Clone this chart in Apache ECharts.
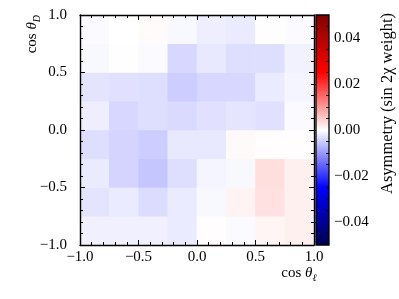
<!DOCTYPE html>
<html>
<head>
<meta charset="utf-8">
<script src="https://cdn.jsdelivr.net/npm/echarts@6/dist/echarts.min.js"></script>
<style>
html,body{margin:0;padding:0;background:#fff;}
#chart{width:399px;height:299px;}
</style>
</head>
<body>
<div id="chart"></div>
<script>
// Bin centres (cos theta_l on x, cos theta_D on y)
const xCats = ['-0.875','-0.625','-0.375','-0.125','0.125','0.375','0.625','0.875'];
const yCats = ['-0.875','-0.625','-0.375','-0.125','0.125','0.375','0.625','0.875'];

// Asymmetry values per row (bottom row first), columns left to right
const asymRowYm0875 = [-0.0015, -0.0015, -0.0015, -0.0020,  0.0002, -0.0005,  0.0010,  0.0015];
const asymRowYm0625 = [-0.0026, -0.0020, -0.0034, -0.0020, -0.0007,  0.0012,  0.0029,  0.0015];
const asymRowYm0375 = [-0.0020, -0.0042, -0.0056, -0.0032, -0.0010, -0.0007,  0.0032,  0.0015];
const asymRowYm0125 = [-0.0032, -0.0042, -0.0049, -0.0023, -0.0023,  0.0005,  0.0002,  0.0002];
const asymRowYp0125 = [-0.0017, -0.0039, -0.0032, -0.0036, -0.0029, -0.0025, -0.0029, -0.0005];
const asymRowYp0375 = [-0.0026, -0.0029, -0.0032, -0.0049, -0.0039, -0.0039, -0.0020, -0.0010];
const asymRowYp0625 = [-0.0007, -0.0001, -0.0005, -0.0039, -0.0023, -0.0032, -0.0032, -0.0013];
const asymRowYp0875 = [-0.0005,  0.0000,  0.0004, -0.0007, -0.0017, -0.0020,  0.0001, -0.0005];

const rows = [asymRowYm0875, asymRowYm0625, asymRowYm0375, asymRowYm0125,
              asymRowYp0125, asymRowYp0375, asymRowYp0625, asymRowYp0875];

// Tick values
const cbMajorTicks = [-0.04, -0.02, 0, 0.02, 0.04];
const cbMinorTicks = [-0.045,-0.035,-0.03,-0.025,-0.015,-0.01,-0.005,0.005,0.01,0.015,0.025,0.03,0.035,0.045];

const seismic = ['#00004c', '#0000ff', '#ffffff', '#ff0000', '#7f0000'];

const heatData = [];
rows.forEach((row, yi) => row.forEach((v, xi) => heatData.push([xi, yi, v])));

const FONT = 'Liberation Serif';
const fmt1 = v => (v < 0 ? '\u2212' : '') + Math.abs(v).toFixed(1);
const fmt2 = v => (Math.abs(v) < 1e-9 ? '0.00' : (v < 0 ? '\u2212' : '') + Math.abs(v).toFixed(2));

function valAxis(pos, showLabel, extra) {
  const isX = pos === 'bottom' || pos === 'top';
  return Object.assign({
    type: 'value', gridIndex: 0, position: pos, min: -1, max: 1, interval: 0.5, z: 10,
    axisLine: {show: true, onZero: false, lineStyle: {color: '#000', width: 1.4}},
    axisTick: {show: true, inside: true, length: 5, lineStyle: {color: '#000', width: 1}},
    minorTick: {show: true, splitNumber: 5, length: 3, lineStyle: {color: '#000', width: 1}},
    splitLine: {show: false}, minorSplitLine: {show: false},
    axisLabel: {show: showLabel, formatter: fmt1, color: '#000', fontFamily: FONT, fontSize: 15,
                margin: isX ? 5 : 13}
  }, extra || {});
}

const chart = echarts.init(document.getElementById('chart'), null, {renderer: 'canvas'});
chart.setOption({
  animation: false,
  backgroundColor: '#fff',
  grid: [
    {left: 80, top: 15, width: 234, height: 230, show: true, backgroundColor: '#fff', borderWidth: 0},
    {left: 316, top: 15, width: 13, height: 230, show: true, borderColor: '#000', borderWidth: 1.3,
     backgroundColor: new echarts.graphic.LinearGradient(0, 0, 0, 1, [
       {offset: 0, color: seismic[4]}, {offset: 0.25, color: seismic[3]},
       {offset: 0.5, color: seismic[2]}, {offset: 0.75, color: seismic[1]},
       {offset: 1, color: seismic[0]}])}
  ],
  xAxis: [
    {type: 'category', gridIndex: 0, data: xCats, show: false},
    valAxis('bottom', true),
    valAxis('top', false),
    {type: 'value', gridIndex: 1, show: false, min: 0, max: 1}
  ],
  yAxis: [
    {type: 'category', gridIndex: 0, data: yCats, show: false},
    valAxis('left', true),
    valAxis('right', false),
    {type: 'value', gridIndex: 1, position: 'right', min: -0.05, max: 0.05, z: 10,
     axisLine: {show: false},
     axisTick: {show: true, inside: true, length: 5, customValues: cbMajorTicks, lineStyle: {color: '#000', width: 1}},
     axisLabel: {show: true, customValues: cbMajorTicks, formatter: fmt2, color: '#000', fontFamily: FONT, fontSize: 15, margin: 5},
     splitLine: {show: false}},
    {type: 'value', gridIndex: 1, position: 'right', min: -0.05, max: 0.05, z: 10,
     axisLine: {show: false},
     axisTick: {show: true, inside: true, length: 3, customValues: cbMinorTicks, lineStyle: {color: '#000', width: 1}},
     axisLabel: {show: false},
     splitLine: {show: false}}
  ],
  visualMap: {
    type: 'continuous', show: false, min: -0.05, max: 0.05, dimension: 2, seriesIndex: 0,
    inRange: {color: seismic}
  },
  series: [{
    type: 'heatmap', xAxisIndex: 0, yAxisIndex: 0, data: heatData,
    itemStyle: {borderWidth: 0}, emphasis: {disabled: true}, progressive: 0
  }],
  graphic: [
    {type: 'text', x: 299, y: 273, style: {
      text: '{c|cos }{t|θ}{s|ℓ}', align: 'center', verticalAlign: 'middle',
      rich: {
        c: {fontFamily: FONT, fontSize: 15, lineHeight: 20, verticalAlign: 'middle', fill: '#000'},
        t: {fontFamily: FONT, fontSize: 15, fontStyle: 'italic', lineHeight: 20, verticalAlign: 'middle', fill: '#000'},
        s: {fontFamily: FONT, fontSize: 10, fontStyle: 'italic', lineHeight: 10, verticalAlign: 'bottom', fill: '#000'}
      }}},
    {type: 'text', x: 32, y: 15, rotation: Math.PI / 2, style: {
      text: '{c|cos }{t|θ}{s|D}', align: 'right', verticalAlign: 'middle',
      rich: {
        c: {fontFamily: FONT, fontSize: 15, lineHeight: 20, verticalAlign: 'middle', fill: '#000'},
        t: {fontFamily: FONT, fontSize: 15, fontStyle: 'italic', lineHeight: 20, verticalAlign: 'middle', fill: '#000'},
        s: {fontFamily: FONT, fontSize: 10, fontStyle: 'italic', lineHeight: 10, verticalAlign: 'bottom', fill: '#000'}
      }}},
    {type: 'text', x: 388, y: 13, rotation: Math.PI / 2, style: {
      text: 'Asymmetry (sin 2χ weight)', align: 'right', verticalAlign: 'middle',
      fontFamily: FONT, fontSize: 16.5, fill: '#000'}}
  ]
});
</script>
</body>
</html>
